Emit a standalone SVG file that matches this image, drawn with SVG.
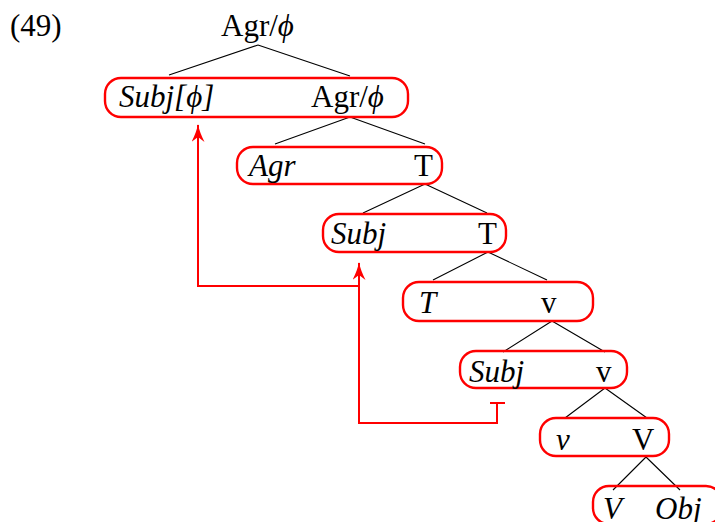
<svg xmlns="http://www.w3.org/2000/svg" width="715" height="522" viewBox="0 0 715 522">
<defs>
<style>
text{font-family:"Liberation Serif","Times New Roman",serif;font-size:31px;fill:#000}
.i{font-style:italic}
.box{fill:none;stroke:#f00;stroke-width:2.4}
.br{stroke:#000;stroke-width:1.1;fill:none}
.red{stroke:#f00;stroke-width:2;fill:none}
</style>
<marker id="ah" viewBox="0 0 18 13" markerWidth="18" markerHeight="13" refX="17" refY="6.5" orient="auto" markerUnits="userSpaceOnUse">
<path d="M18,6.5 C12,7.5 6,10 0,13 L5,6.5 L0,0 C6,3 12,5.5 18,6.5 Z" fill="#f00"/>
</marker>
</defs>
<rect width="715" height="522" fill="#fff"/>
<text x="10" y="36">(49)</text>
<g id="root"><text x="221" y="36">Agr/<tspan class="i">ϕ</tspan></text></g>
<g id="connectors">
<path class="br" d="M258,45 L169,75 M258,45 L350,76"/>
<path class="br" d="M350,117 L275,144 M350,117 L425,144"/>
<path class="br" d="M425,184 L363,213 M425,184 L487,213"/>
<path class="br" d="M488,252 L433,280 M488,252 L547,280"/>
<path class="br" d="M552,321 L503,352 M552,321 L605,352"/>
<path class="br" d="M605,388 L565,418 M605,388 L647,418"/>
<path class="br" d="M646,457 L613,490 M646,457 L680,490"/>
<path class="red" d="M490,403 L505,403 M497,403 L497,423 L359,423 L359,263" marker-end="url(#ah)"/>
<path class="red" d="M359,286 L198,286 L198,125" marker-end="url(#ah)"/>
</g>
<g id="n1"><rect class="box" x="105" y="78" width="303" height="39" rx="16"/><text class="i" x="119" y="107">Subj[ϕ]</text><text x="311" y="107">Agr/<tspan class="i">ϕ</tspan></text></g>
<g id="n2"><rect class="box" x="237" y="147" width="205" height="37" rx="16"/><text class="i" x="249" y="176">Agr</text><text x="414" y="176">T</text></g>
<g id="n3"><rect class="box" x="323" y="214" width="183" height="38" rx="16"/><text class="i" x="331" y="244">Subj</text><text x="478" y="244">T</text></g>
<g id="n4"><rect class="box" x="403" y="282" width="190" height="39" rx="16"/><text class="i" x="419" y="313">T</text><text x="541" y="313">v</text></g>
<g id="n5"><rect class="box" x="460" y="351" width="167" height="37" rx="16"/><text class="i" x="469" y="382">Subj</text><text x="596" y="382">v</text></g>
<g id="n6"><rect class="box" x="540" y="418" width="129" height="38" rx="16"/><text class="i" x="556" y="450">v</text><text x="632" y="450">V</text></g>
<g id="n7"><rect class="box" x="593" y="486" width="129" height="38" rx="16"/><text class="i" x="603" y="519">V</text><text class="i" x="655" y="519">Obj</text></g>
</svg>
